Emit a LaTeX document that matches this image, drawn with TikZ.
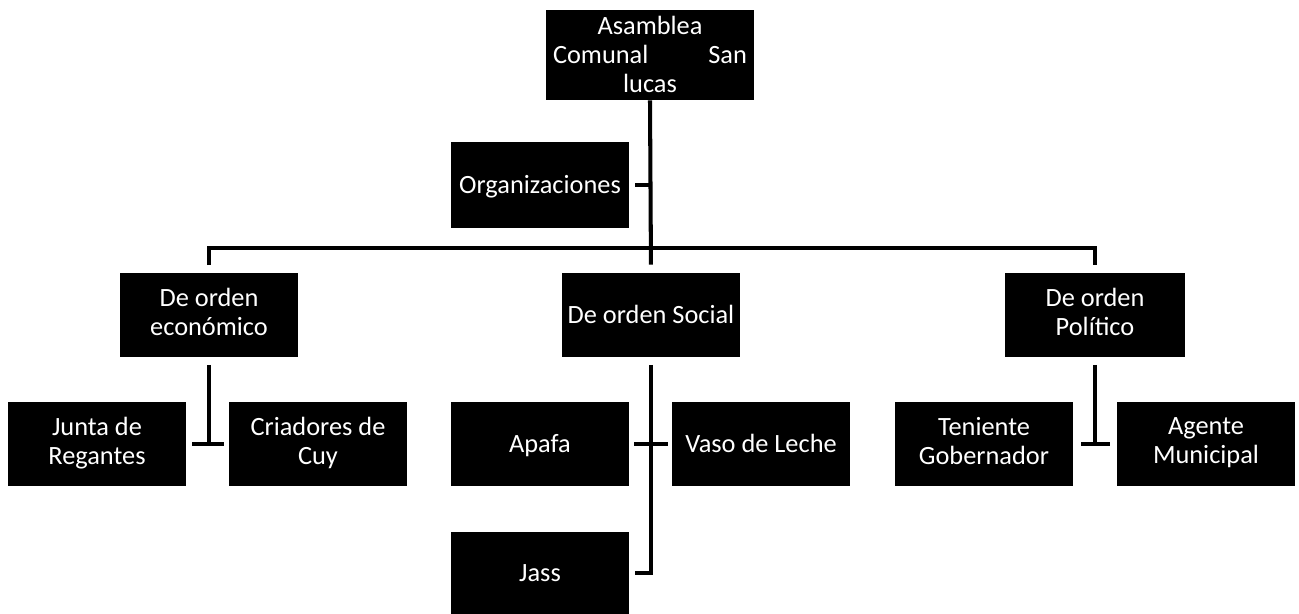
\documentclass[tikz,border=0pt]{standalone}
\usepackage{fontspec}
\setmainfont{Carlito}
\usepackage{tikz}

\newcommand{\puntal}{\rule[-3.5pt]{0pt}{16.5pt}}

\tikzset{
    caja/.style={fill=black, text=white, inner sep=0pt, align=center,
        minimum width=3.56cm, minimum height=1.7cm,
        font=\fontsize{15}{16.5}\selectfont,
        execute at begin node=\puntal, execute at end node=\puntal},
    linea/.style={line width=2.3pt, line cap=butt}
}

\begin{document}
\begin{tikzpicture}[x=0.02cm, y=-0.02cm]

        \useasboundingbox (0,0) rectangle (1299,614);

        \coordinate (bus) at (650,248);

        \node[caja, minimum width=4.18cm, minimum height=1.8cm, text width=3.88cm] (asamblea) at (650,55)
            {Asamblea\\Comunal\hfill San\\lucas};
        \node[caja, minimum height=1.72cm] (org) at (540,185) {Organizaciones};

        \node[caja] (eco) at (209,315) {De orden\\económico};
        \node[caja] (soc) at (651,315) {De orden Social};
        \node[caja, minimum width=3.6cm] (pol) at (1095,315) {De orden\\Político};

        \node[caja] (junta) at (97,444) {Junta de\\Regantes};
        \node[caja] (cria) at (318,444) {Criadores de\\Cuy};

        \node[caja] (apafa) at (540,444) {Apafa};
        \node[caja] (vaso) at (761,444) {Vaso de Leche};
        \node[caja, minimum height=1.64cm] (jass) at (540,573) {Jass};

        \node[caja] (teniente) at (984,444) {Teniente\\Gobernador};
        \node[caja] (agente) at (1206,444) {Agente\\Municipal};

        \draw[linea, shorten >=0.15cm] (asamblea.south) -- (soc.north);
        \draw[linea, shorten <=0.12cm] (org.east) -- (org.east -| asamblea.south);
        \draw[linea, shorten <=0.14cm, shorten >=0.14cm] (eco.north) |- (bus) -| (pol.north);

        \draw[linea, shorten <=0.14cm] (eco.south) -- (eco.south |- junta.east);
        \draw[linea, shorten <=0.12cm, shorten >=0.1cm] (junta.east) -- (cria.west);

        \draw[linea, shorten <=0.14cm, shorten >=0.12cm] (soc.south) |- (jass.east);
        \draw[linea, shorten <=0.1cm, shorten >=0.08cm] (apafa.east) -- (vaso.west);

        \draw[linea, shorten <=0.14cm] (pol.south) -- (pol.south |- teniente.east);
        \draw[linea, shorten <=0.16cm, shorten >=0.14cm] (teniente.east) -- (agente.west);

\end{tikzpicture}
\end{document}
